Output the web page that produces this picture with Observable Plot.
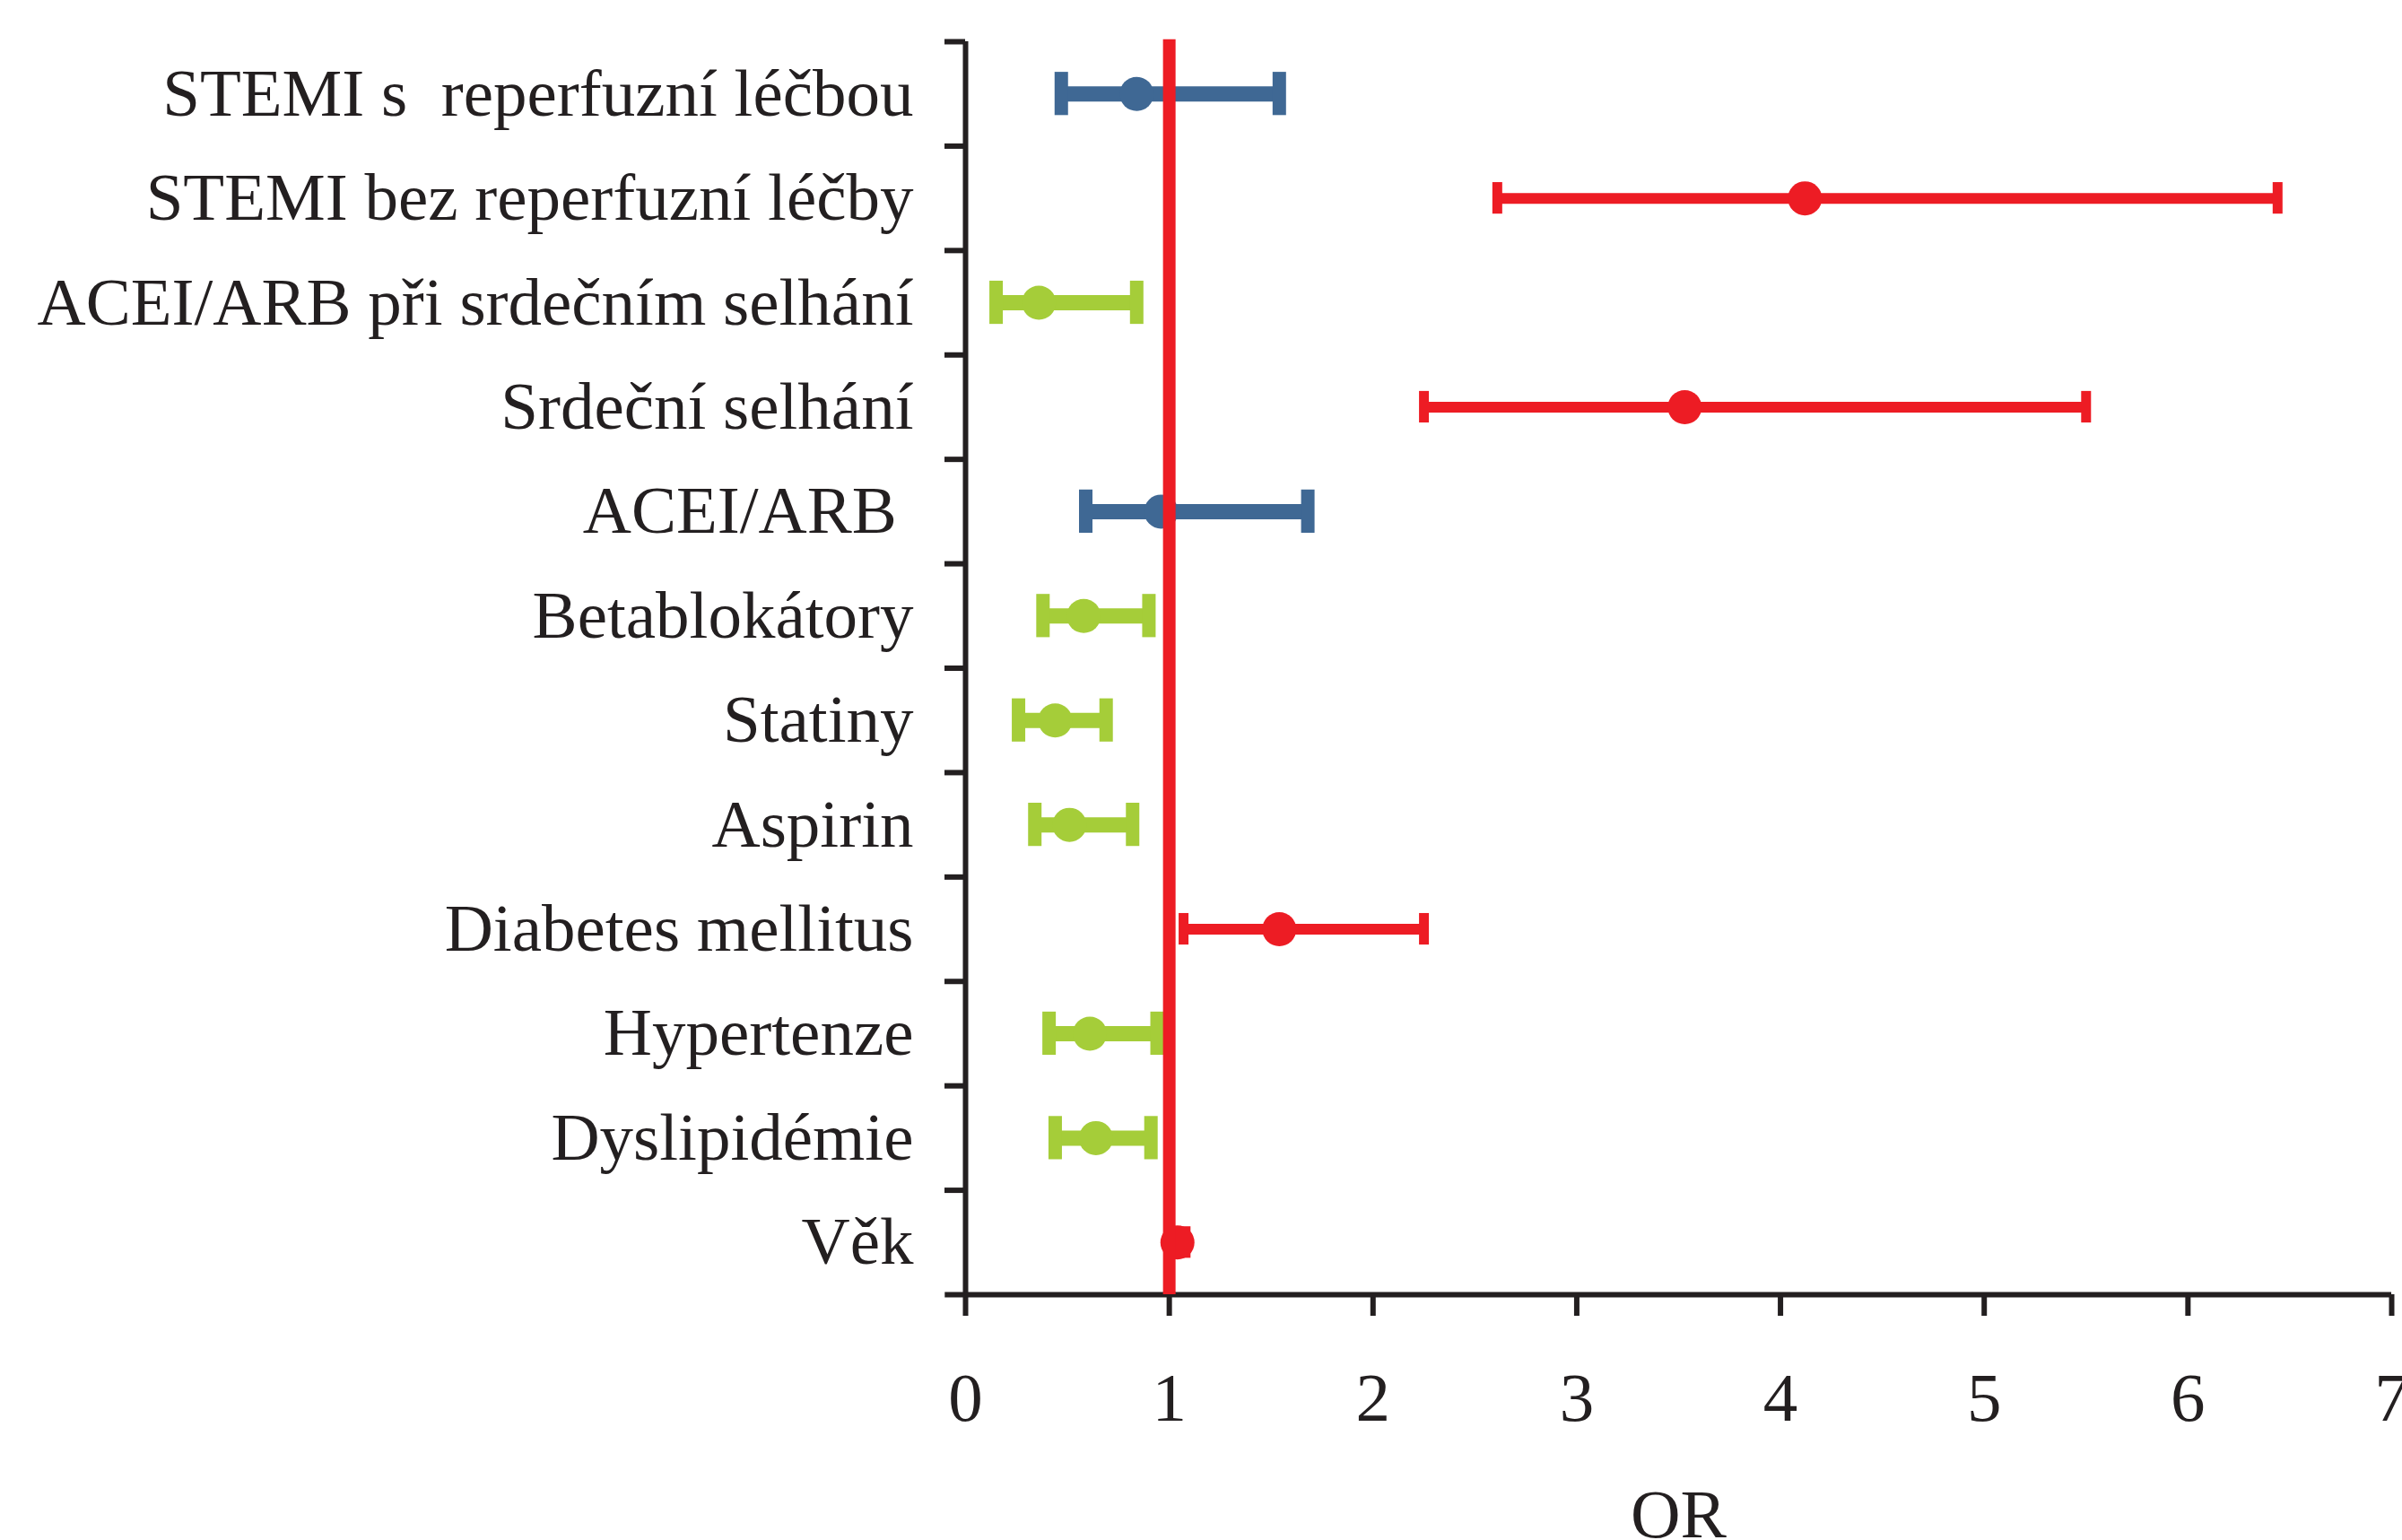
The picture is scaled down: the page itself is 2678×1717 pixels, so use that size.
<!DOCTYPE html>
<html>
<head>
<meta charset="utf-8">
<script src="https://cdn.jsdelivr.net/npm/d3@7"></script>
<script src="https://cdn.jsdelivr.net/npm/@observablehq/plot@0.6"></script>
<style>
  html, body { margin: 0; padding: 0; background: #ffffff; overflow: hidden; }
  #chart svg { display: block; }
</style>
</head>
<body>
<div id="chart"></div>
<script>
// ---- data (top to bottom, as in the chart) ----
const categories = [
  "STEMI s  reperfuzní léčbou",
  "STEMI bez reperfuzní léčby",
  "ACEI/ARB při srdečním selhání",
  "Srdeční selhání",
  "ACEI/ARB ",
  "Betablokátory",
  "Statiny",
  "Aspirin",
  "Diabetes mellitus",
  "Hypertenze",
  "Dyslipidémie",
  "Věk"
];
const oddsRatio = [0.84, 4.12, 0.36, 3.53, 0.96, 0.58, 0.44, 0.51, 1.54, 0.61, 0.64, 1.04];
const ciLower   = [0.47, 2.61, 0.15, 2.25, 0.59, 0.38, 0.26, 0.34, 1.07, 0.41, 0.44, 1.00];
const ciUpper   = [1.54, 6.44, 0.84, 5.50, 1.68, 0.90, 0.69, 0.82, 2.25, 0.94, 0.91, 1.08];
const effect    = ["ns", "risk", "protective", "risk", "ns", "protective", "protective", "protective", "risk", "protective", "protective", "risk"];
const xTicks = [0, 1, 2, 3, 4, 5, 6, 7];
const referenceOR = [1];
const axisTitle = "OR";

// ---- styles ----
const ink = "#231F20";
const red = "#ED1C24";
const green = "#A5CD39";
const blue = "#3F6894";

const rows = categories.map((label, i) => ({
  label, pos: i + 0.5, or: oddsRatio[i], lo: ciLower[i], hi: ciUpper[i], effect: effect[i]
}));
const risk = rows.filter(d => d.effect === "risk");
const other = rows.filter(d => d.effect !== "risk");

const bandBoundaries = d3.range(categories.length);          // tick marks between rows
const bandCenters = categories.map((_, i) => i + 0.5);       // label positions

const capHalfBig = 0.207;   // half cap height in row units (~24px)
const capHalfSmall = 0.151; // (~17.5px)

const chart = Plot.plot({
  width: 2678,
  height: 1717,
  marginLeft: 1076,
  marginRight: 12,
  marginTop: 46,
  marginBottom: 274,
  style: {
    fontFamily: "'Liberation Serif', 'Times New Roman', Times, serif",
    fontSize: "75px",
    color: ink,
    background: "#ffffff",
    overflow: "visible"
  },
  x: {domain: [0, 7]},
  y: {domain: [0, categories.length], reverse: true},
  color: {domain: ["risk", "protective", "ns"], range: [red, green, blue]},
  marks: [
    // y axis: boundary ticks
    Plot.axisY(bandBoundaries, {tickSize: 23, strokeWidth: 6, stroke: ink, tickFormat: () => "", label: null}),
    // y axis: category labels
    Plot.axisY(bandCenters, {
      tickSize: 0, tickPadding: 58, fontSize: 75, fill: ink, label: null,
      tickFormat: v => categories[Math.floor(v)]
    }),
    // x axis
    Plot.axisX(xTicks, {
      tickSize: 24, strokeWidth: 6, stroke: ink, tickPadding: 62, fontSize: 77, fill: ink,
      tickFormat: d => String(d),
      label: axisTitle, labelAnchor: "center", labelArrow: "none", labelOffset: 270
    }),
    // axis lines
    Plot.ruleX([0], {y1: 0, y2: categories.length, stroke: ink, strokeWidth: 6}),
    Plot.ruleY([categories.length], {x1: -0.1, x2: 7, stroke: ink, strokeWidth: 6}),
    // CI bars
    Plot.ruleY(other, {y: "pos", x1: "lo", x2: "hi", stroke: "effect", strokeWidth: 17}),
    Plot.ruleY(risk, {y: "pos", x1: "lo", x2: "hi", stroke: "effect", strokeWidth: 12}),
    // caps
    Plot.ruleX(other, {x: "lo", y1: d => d.pos - capHalfBig, y2: d => d.pos + capHalfBig, stroke: "effect", strokeWidth: 15}),
    Plot.ruleX(other, {x: "hi", y1: d => d.pos - capHalfBig, y2: d => d.pos + capHalfBig, stroke: "effect", strokeWidth: 15}),
    Plot.ruleX(risk, {x: "lo", y1: d => d.pos - capHalfSmall, y2: d => d.pos + capHalfSmall, stroke: "effect", strokeWidth: 11}),
    Plot.ruleX(risk, {x: "hi", y1: d => d.pos - capHalfSmall, y2: d => d.pos + capHalfSmall, stroke: "effect", strokeWidth: 11}),
    // point estimates
    Plot.dot(rows, {x: "or", y: "pos", r: 19, fill: "effect", stroke: null}),
    // reference line OR = 1
    Plot.ruleX(referenceOR, {y1: -0.02, y2: categories.length, stroke: red, strokeWidth: 14})
  ]
});
document.getElementById("chart").appendChild(chart);
</script>
</body>
</html>
